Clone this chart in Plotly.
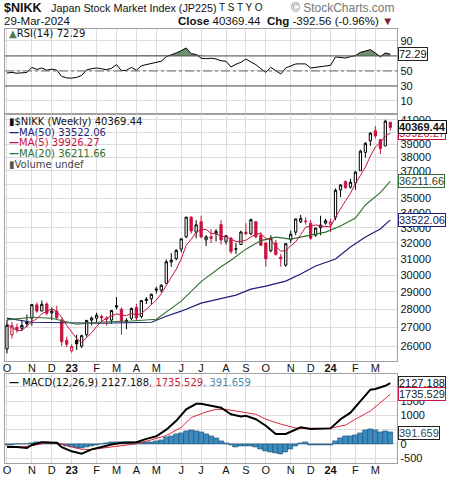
import numpy as np
import pandas as pd
import plotly.graph_objects as go

# weekly bars, Monday of each week
weeks = pd.date_range("2022-10-03", periods=78, freq="7D")

opens = [25850, 26600, 27000, 26950, 27300, 27500, 28250, 27900, 28300, 27800,
         27900, 27400, 26300, 25750, 26300, 26000, 26600, 27400, 27500, 27600,
         27500, 27400, 28200, 28000, 27300, 27500, 28100, 27600, 28500, 28600,
         29100, 29100, 29500, 30800, 31000, 31600, 32400, 33700, 32700, 33400,
         32200, 32400, 32600, 33200, 32100, 32300, 31600, 31900, 32700, 32600,
         33400, 32500, 32000, 31500, 32000, 31100, 30600, 32200, 32700, 33400,
         33400, 33300, 32500, 33000, 33300, 33200, 33700, 35600, 36200, 35800,
         36100, 37000, 38400, 39300, 40100, 39400, 38900, 40800]
highs = [27400, 27300, 27200, 27400, 27700, 28300, 28380, 28500, 28400, 28100,
         28200, 27500, 26500, 26100, 26600, 26600, 27400, 27600, 27800, 27700,
         27600, 27950, 28700, 28100, 27500, 28100, 28300, 28500, 28700, 28900,
         29300, 29450, 30950, 31350, 31600, 32300, 33700, 33770, 33500, 33800,
         32500, 32900, 32900, 33500, 32500, 32400, 32000, 32800, 33300, 33600,
         33400, 32700, 32000, 32500, 32200, 31300, 32000, 32800, 33600, 33850,
         33700, 33500, 33000, 33800, 33600, 33600, 35700, 36000, 36300, 36400,
         37000, 38600, 39200, 39990, 40470, 39400, 41000, 40800]
lows = [25620, 26400, 26700, 26800, 27000, 27100, 27800, 27900, 27650, 27400,
        27400, 26000, 25950, 25660, 25800, 25900, 26500, 27100, 27300, 27300,
        27100, 27200, 28000, 26600, 26900, 27400, 27400, 27500, 28300, 28300,
        28900, 28950, 29500, 30500, 30900, 31400, 32300, 32600, 32300, 32300,
        31800, 32000, 32100, 31900, 31900, 31300, 31300, 31900, 32500, 32500,
        32300, 31800, 30500, 31400, 31200, 30500, 30500, 32000, 32500, 33300,
        33200, 32200, 32400, 32500, 33200, 32700, 33500, 35100, 35700, 35700,
        35600, 37000, 38000, 38900, 39500, 38270, 38900, 40100]
closes = [27116, 27090, 26891, 27105, 27199, 28263, 27899, 28283, 27777, 27901,
          27527, 26235, 26094, 25973, 26119, 26553, 27382, 27509, 27670, 27513,
          27453, 27927, 28143, 27333, 27385, 28041, 27518, 28493, 28564, 28856,
          29157, 29388, 30808, 30916, 31524, 32265, 33706, 32781, 33189, 32388,
          32391, 32304, 32759, 32192, 32473, 31450, 31624, 32710, 32606, 33533,
          32402, 31857, 30994, 32315, 31259, 30991, 31950, 32568, 33585, 33625,
          33431, 32307, 32970, 33169, 33464, 33377, 35577, 35963, 35751, 36158,
          36897, 38487, 39098, 39910, 39688, 38707, 40888, 40369.44]
prev_close_first = 25937

ma5 = [27197, 26973, 26837, 26828, 27080, 27310, 27471, 27750, 27884, 28025,
       27877, 27545, 27107, 26746, 26390, 26195, 26424, 26707, 27047, 27325,
       27505, 27614, 27741, 27674, 27648, 27766, 27684, 27754, 28000, 28294,
       28518, 28892, 29355, 29825, 30359, 30980, 31844, 32238, 32693, 32866,
       32891, 32611, 32606, 32407, 32424, 32236, 32100, 32090, 32173, 32385,
       32575, 32622, 32278, 32220, 31765, 31483, 31502, 31817, 32071, 32544,
       33032, 33103, 33184, 33100, 33068, 33057, 33711, 34310, 34826, 35365,
       36069, 36651, 37278, 38110, 38816, 39178, 39658, 39926.27]

ma20_wk = [0, 5, 9, 14, 19, 25, 30, 32, 35, 39, 43, 45, 48, 51, 54, 57, 61, 64, 67, 70, 72, 75, 77]
ma20 = [27408, 27556, 27502, 27172, 27296, 27350, 27447, 27836, 28462, 29600, 30500,
        30900, 31600, 32150, 32376, 32245, 32508, 32705, 33103, 33641, 34542, 35412, 36211.66]

ma50_wk = [0, 5, 19, 29, 32, 35, 39, 43, 46, 49, 52, 56, 59, 62, 66, 69, 72, 75, 77]
ma50 = [27502, 27280, 27225, 27280, 27613, 27893, 28347, 28634, 28808, 29160, 29337,
        29635, 30058, 30547, 30981, 31740, 32380, 32910, 33522.06]

rsi = [47.3, 48, 47, 47.5, 48, 54.8, 52, 54, 51, 52.5,
       51, 42.8, 40.7, 40.5, 41.5, 44, 51.5, 53, 54, 53,
       51.7, 53.5, 58.4, 50.4, 51, 54.8, 50.9, 57, 58.4, 60,
       61.5, 63, 69, 71, 74, 77, 80.7, 73, 72, 67,
       66.4, 67, 66, 63.7, 63, 55.3, 59, 61.5, 66, 62,
       58.4, 53, 48.1, 54.8, 50, 46, 54, 56.5, 59.3, 59.5,
       59.3, 54, 55, 56, 57, 57.5, 68.7, 68, 67.3, 69,
       70.4, 74.8, 77, 78.4, 74, 68.7, 74, 72.29]

macd_wk = [0, 2, 4, 5, 7, 8, 10, 11, 13, 15, 17, 19, 21, 23, 26, 28, 30, 32, 34, 36, 38, 39,
           41, 43, 45, 47, 48, 50, 52, 54, 56, 57, 59, 61, 63, 65, 67, 69, 71, 73, 74, 76, 77]
macd = [-115, -115, -150, -40, 57, 57, 40, -115, -264, -345, -195, -115, -23, 35, 57, 172,
        264, 494, 805, 1207, 1402, 1402, 1322, 1264, 1034, 954, 980, 862, 632, 345, 345,
        425, 575, 517, 530, 540, 862, 1092, 1494, 1897, 1920, 2034, 2127.188]
signal_wk = [0, 3, 6, 8, 10, 12, 15, 17, 19, 22, 26, 29, 32, 35, 37, 40, 42, 44, 47, 50, 52,
             55, 58, 60, 63, 65, 68, 70, 73, 77]
signal = [-80, -115, -35, 35, 35, -57, -195, -200, -150, -80, 0, 138, 287, 575, 920, 1115,
          1207, 1207, 1115, 1034, 862, 690, 552, 540, 540, 550, 655, 862, 1149, 1735.529]
hist = [-40, -35, -30, -20, -10, 20, 40, 50, 40, 30,
        20, -20, -70, -120, -150, -140, -110, -80, -40, -10,
        20, 40, 60, 50, 40, 50, 40, 50, 60, 70,
        100, 140, 220, 280, 330, 380, 440, 470, 450, 400,
        320, 260, 180, 100, 20, -60, -110, -100, -100, -80,
        -120, -180, -260, -280, -330, -370, -310, -200, -80, 20,
        40, -40, -60, -60, -60, -50, 80, 190, 250, 270,
        300, 380, 460, 520, 480, 420, 430, 391.659]

month_ticks = ["2022-10-03", "2022-11-07", "2022-12-05", "2023-01-02", "2023-02-06", "2023-03-06",
               "2023-04-03", "2023-05-01", "2023-06-05", "2023-07-03", "2023-08-07", "2023-09-04",
               "2023-10-02", "2023-11-06", "2023-12-04", "2024-01-01", "2024-02-05", "2024-03-04"]
month_labels = ["O", "N", "D", "<b>23</b>", "F", "M", "A", "M", "J", "J", "A", "S",
                "O", "N", "D", "<b>24</b>", "F", "M"]

price_ticks = list(range(26000, 42000, 1000))
price_hidden = [36000, 40000]          # covered by the value tags
rsi_ticks = [10, 30, 50, 70, 90]
macd_ticks = [-500, 0, 500, 1000, 1500, 2000]

W, H = 453, 479
RED = "#C8133F"
NAVY = "#1E1E78"
GREEN = "#2F6F2F"
GRID = "#DCDCDC"
BORDER = "#A0A0A0"
TICKFONT = dict(family="Liberation Sans, Arial", size=11, color="#111")
LEGFONT = "DejaVu Sans, Verdana"


def px(x):
    return x / W


def py(y):
    return 1 - y / H


fig = go.Figure()

# ---- candles: black when close >= previous close, red otherwise
prev = [prev_close_first] + closes[:-1]
up = [c >= p for c, p in zip(closes, prev)]
for flag, col, fill_dn in [(True, "#000000", "#000000"), (False, RED, RED)]:
    idx = [i for i in range(len(closes)) if up[i] == flag]
    fig.add_trace(go.Candlestick(
        x=weeks[idx], open=[opens[i] for i in idx], high=[highs[i] for i in idx],
        low=[lows[i] for i in idx], close=[closes[i] for i in idx],
        increasing=dict(line=dict(color=col, width=1), fillcolor="white"),
        decreasing=dict(line=dict(color=col, width=1), fillcolor=fill_dn),
        xaxis="x2", yaxis="y2", showlegend=False, hoverinfo="skip"))

fig.add_trace(go.Scatter(x=weeks[ma50_wk], y=ma50, mode="lines", line=dict(color=NAVY, width=1.2),
                         xaxis="x2", yaxis="y2", showlegend=False))
fig.add_trace(go.Scatter(x=weeks[ma20_wk], y=ma20, mode="lines", line=dict(color=GREEN, width=1.1),
                         xaxis="x2", yaxis="y2", showlegend=False))
fig.add_trace(go.Scatter(x=weeks, y=ma5, mode="lines", line=dict(color=RED, width=1),
                         xaxis="x2", yaxis="y2", showlegend=False))

# ---- RSI
fig.add_trace(go.Scatter(x=weeks, y=[70] * len(rsi), mode="lines", line=dict(width=0),
                         xaxis="x", yaxis="y", showlegend=False))
fig.add_trace(go.Scatter(x=weeks, y=[max(r, 70) for r in rsi], mode="lines", line=dict(width=0),
                         fill="tonexty", fillcolor="#6E8F6E", xaxis="x", yaxis="y", showlegend=False))
fig.add_trace(go.Scatter(x=weeks, y=rsi, mode="lines", line=dict(color="black", width=1),
                         xaxis="x", yaxis="y", showlegend=False))

# ---- MACD
fig.add_trace(go.Bar(x=weeks, y=hist, marker=dict(color="#3A8CC0", line=dict(color="#1D4C6E", width=0.6)),
                     width=7 * 86400000, xaxis="x3", yaxis="y3", showlegend=False))
fig.add_trace(go.Scatter(x=weeks[signal_wk], y=signal, mode="lines", line=dict(color="#D8283A", width=1),
                         xaxis="x3", yaxis="y3", showlegend=False))
fig.add_trace(go.Scatter(x=weeks[macd_wk], y=macd, mode="lines", line=dict(color="black", width=2),
                         xaxis="x3", yaxis="y3", showlegend=False))

xr = ["2022-09-30 05:00", "2024-04-03 19:00"]
xdom = [px(3), px(397)]
xcommon = dict(type="date", range=xr, domain=xdom, tickvals=month_ticks, ticktext=month_labels,
               showgrid=True, gridcolor=GRID, gridwidth=1, showline=True, mirror=True,
               linecolor=BORDER, ticks="", tickfont=TICKFONT, zeroline=False,
               rangeslider=dict(visible=False), fixedrange=True, ticklabelstandoff=-3)
ycommon = dict(side="right", showgrid=True, gridcolor=GRID, showline=True, mirror=True,
               linecolor=BORDER, ticks="", tickfont=TICKFONT, zeroline=False, fixedrange=True)

fig.update_layout(
    width=W, height=H, autosize=False,
    margin=dict(l=0, r=0, t=0, b=0),
    paper_bgcolor="white", plot_bgcolor="white",
    bargap=0, boxgap=0.35,
    xaxis=dict(xcommon, anchor="y", showticklabels=False),
    xaxis2=dict(xcommon, anchor="y2", matches="x"),
    xaxis3=dict(xcommon, anchor="y3", matches="x"),
    yaxis=dict(ycommon, anchor="x", domain=[py(114), py(29)], range=[-7, 106],
               tickvals=rsi_ticks, ticktext=["" if v == 70 else str(v) for v in rsi_ticks]),
    yaxis2=dict(ycommon, anchor="x2", domain=[py(362), py(114)], type="log",
                range=[np.log10(25220), np.log10(41500)], tickvals=price_ticks,
                ticktext=["" if v in price_hidden else str(v) for v in price_ticks]),
    yaxis3=dict(ycommon, anchor="x3", domain=[py(464), py(375)], range=[-675, 2440],
                tickvals=macd_ticks, ticktext=["" if v in (500, 2000) else str(v) for v in macd_ticks]),
)

# RSI reference lines
for lvl, dash, col in [(70, "solid", "#555555"), (30, "solid", "#555555"), (50, "dashdot", "#666666")]:
    fig.add_shape(type="line", xref="x domain", yref="y", x0=0, x1=1, y0=lvl, y1=lvl,
                  line=dict(color=col, width=1, dash=dash))

# ---- header texts
def txt(x, y, text, size=11, color="#111", family="Liberation Sans, Arial", anchor="left"):
    fig.add_annotation(xref="paper", yref="paper", x=px(x), y=py(y), text=text, showarrow=False,
                       xanchor=anchor, yanchor="middle", font=dict(size=size, color=color, family=family))


txt(0, 8, "<b>$NIKK</b>", size=12.5)
txt(47, 8, "Japan Stock Market Index (JP225)", size=10.8)
txt(216, 8, "T S T Y O", size=10)
txt(397, 8, "© StockCharts.com", size=12, color="#777777", anchor="right")
txt(0, 21.5, "29-Mar-2024", size=11.5)
txt(395, 21.5, "<b>Close</b> 40369.44  <b>Chg</b> -392.56 (-0.96%) <span style='color:#8B1A3A'>▼</span>",
    size=11.5, anchor="right")

txt(5, 34, "<span style='color:#4E7A4E'>▲</span>RSI(14) 72.29", size=10, family=LEGFONT)
txt(5, 121.5, "▮$NIKK (Weekly) 40369.44", size=10, family=LEGFONT)
txt(5, 132.3, "<b>—</b>MA(50) 33522.06", size=10, color=NAVY, family=LEGFONT)
txt(5, 143.2, "<b>—</b>MA(5) 39926.27", size=10, color=RED, family=LEGFONT)
txt(5, 154, "<b>—</b>MA(20) 36211.66", size=10, color=GREEN, family=LEGFONT)
txt(5, 164.5, "<span style='color:#555'>▮</span>Volume undef", size=10, color="#444", family=LEGFONT)
txt(5, 383.3, "<b>—</b> MACD(12,26,9) 2127.188<span style='color:#C8233A'>, 1735.529</span>"
    "<span style='color:#4A8DB8'>, 391.659</span>", size=10, family=LEGFONT)

# ---- value tags on the right edge
def tag(yref, yval, text, border, color="#111", bold=False):
    fig.add_annotation(xref="paper", yref=yref, x=px(398), y=yval, text=f"<b>{text}</b>" if bold else text,
                       showarrow=False, xanchor="left", yanchor="middle", bgcolor="white",
                       bordercolor=border, borderwidth=1, borderpad=0,
                       font=dict(size=11, color=color, family="Liberation Sans, Arial"))


tag("y", 72.29, "72.29", "#222")
tag("y2", np.log10(39926.27), "39926.27", RED, color=RED)
tag("y2", np.log10(40369.44), "40369.44", "#111", bold=True)
tag("y2", np.log10(36211.66), "36211.66", GREEN, color="#1F3F1F")
tag("y2", np.log10(33522.06), "33522.06", NAVY, color="#1A1A4A")
tag("y3", 2127.188, "2127.188", "#222")
tag("y3", 1735.529, "1735.529", RED, color="#222")
tag("y3", 391.659, "391.659", "#222", color="#2E4A5A")

fig.write_html("out.html", config={"displayModeBar": False},
               post_script="document.body.style.margin='0';")
